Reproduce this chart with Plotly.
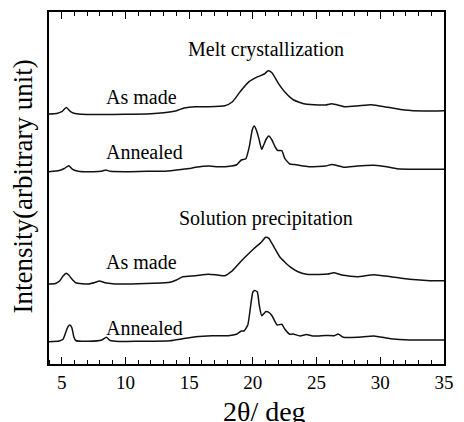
import plotly.graph_objects as go

# Powder XRD patterns, 2-theta in degrees, intensity in arbitrary units
melt_made_2theta = [4.0, 4.6, 5.0, 5.35, 5.7, 5.95, 6.5, 8.0, 10.0, 12.0, 13.0, 14.0, 14.6, 15.5, 16.5,
                    17.8, 18.4, 19.0, 19.7, 20.4, 20.9, 21.2, 21.5, 22.0, 22.6, 23.2, 24.1, 25.2, 25.7,
                    26.2, 27.2, 28.2, 29.3, 30.6, 31.9, 33.4, 35.0]
melt_made_int = [0, 0.5, 2.3, 6.5, 2.3, 0.7, -0.2, -0.5, -0.2, 0.3, 1.3, 3.3, 6.0, 7.3, 7.3,
                 8.3, 12.3, 22.3, 32.3, 37.3, 40.0, 43.3, 41.3, 30.7, 20.7, 14.0, 10.0, 9.0, 9.0,
                 10.3, 7.3, 8.0, 9.3, 6.7, 4.0, 3.0, 3.3]

melt_ann_2theta = [4.0, 4.8, 5.2, 5.55, 5.85, 6.3, 7.5, 8.2, 8.45, 8.8, 10.0, 11.7, 13.0, 14.0, 15.0,
                   15.5, 16.55, 17.2, 17.8, 18.3, 18.7, 19.09, 19.45, 19.72, 19.95, 20.1, 20.3, 20.5,
                   20.69, 20.85, 21.05, 21.25, 21.5, 21.75, 21.95, 22.27, 22.5, 22.9, 23.3, 23.7, 24.4,
                   25.1, 25.7, 26.2, 26.6, 27.2, 28.2, 29.5, 30.5, 31.3, 33.4, 35.0]
melt_ann_int = [0, 1.2, 3.2, 6.0, 2.4, 0.4, 0, 0.7, 1.7, 0.4, 0, 0.4, 0.4, 1.7, 3.2,
                4.4, 5.7, 5.0, 5.0, 5.7, 6.7, 11.7, 13.0, 25.0, 41.7, 45.7, 40.7, 31.7,
                22.4, 26.7, 32.7, 35.7, 31.7, 24.7, 21.2, 21.0, 13.4, 7.7, 7.2, 6.2, 5.0,
                5.2, 5.7, 7.2, 6.2, 4.4, 5.7, 6.4, 5.0, 3.0, 2.4, 2.4]

sol_made_2theta = [4.0, 4.5, 4.85, 5.1, 5.35, 5.55, 5.75, 6.1, 7.1, 7.6, 7.95, 8.4, 9.0, 10.0, 12.2,
                   13.5, 14.0, 14.5, 15.5, 16.5, 17.2, 17.8, 18.3, 18.8, 19.3, 20.05, 20.7, 21.0,
                   21.25, 21.6, 22.1, 22.5, 22.9, 23.5, 24.2, 25.2, 25.9, 26.35, 27.0, 28.2, 29.5,
                   30.8, 32.3, 33.9, 35.0]
sol_made_int = [0, 0.5, 3.3, 8.0, 10.7, 9.0, 5.7, 1.3, 0, 1.5, 3.0, 1.3, 0.3, 0, 0.7,
                1.7, 4.0, 7.3, 8.3, 9.7, 9.0, 8.3, 12.3, 19.0, 25.7, 35.0, 42.3, 46.7,
                45.7, 38.3, 27.3, 22.0, 17.3, 12.5, 9.7, 9.5, 10.0, 11.3, 9.0, 7.3, 9.3,
                7.3, 4.7, 3.3, 3.3]

sol_ann_2theta = [4.0, 4.8, 5.1, 5.35, 5.5, 5.65, 5.8, 5.95, 6.1, 7.1, 8.15, 8.5, 8.8, 9.5, 11.0,
                  13.5, 14.5, 15.5, 16.8, 18.07, 18.7, 19.09, 19.3, 19.6, 19.8, 20.0, 20.15, 20.35,
                  20.5, 20.7, 21.0, 21.25, 21.5, 21.9, 22.27, 22.5, 22.9, 23.16, 23.7, 24.2, 24.7,
                  25.7, 26.4, 26.7, 27.1, 28.2, 29.5, 30.8, 32.3, 35.0]
sol_ann_int = [0, 0.7, 2.4, 10.7, 15.2, 16.7, 13.7, 4.7, 1.2, 0.4, 1.7, 4.4, 1.2, 0.2, 0.4,
               1.0, 3.0, 5.0, 6.0, 6.0, 7.4, 10.7, 10.7, 16.7, 33.4, 49.7, 51.2, 49.7,
               36.7, 26.0, 30.0, 29.4, 26.0, 16.7, 17.4, 12.7, 7.4, 7.7, 5.7, 7.2, 5.7,
               6.2, 6.0, 7.7, 4.4, 4.4, 5.7, 3.0, 1.7, 1.7]

# Vertical offsets used to stack the patterns
offsets = [250.0, 192.3, 80.0, 22.3]

patterns = [
    (melt_made_2theta, melt_made_int),
    (melt_ann_2theta, melt_ann_int),
    (sol_made_2theta, sol_made_int),
    (sol_ann_2theta, sol_ann_int),
]
# the last pattern sits on the twin x axis that carries the bottom tick marks
trace_xaxes = ["x", "x", "x", "x2"]

# Text labels: (text, 2theta, y, anchor)
labels = [
    ("Melt crystallization", 21.0, 315, "center"),
    ("As made", 8.35, 267, "left"),
    ("Annealed", 8.35, 212, "left"),
    ("Solution precipitation", 21.0, 146, "center"),
    ("As made", 8.35, 102, "left"),
    ("Annealed", 8.35, 36, "left"),
]

X_TITLE = "2θ/ deg"
Y_TITLE = "Intensity(arbitrary unit)"

SERIF = "Liberation Serif, Times New Roman, serif"
X_RANGE = [4, 35]

fig = go.Figure()
for (tt, inten), off, xa in zip(patterns, offsets, trace_xaxes):
    fig.add_trace(go.Scatter(
        x=tt, y=[v + off for v in inten], mode="lines", xaxis=xa, yaxis="y",
        line=dict(color="#111111", width=1.5, shape="spline", smoothing=0.5),
        showlegend=False, hoverinfo="skip",
    ))

for text, x, y, anchor in labels:
    fig.add_annotation(x=x, y=y, text=text, showarrow=False, xanchor=anchor, yanchor="middle",
                       font=dict(family=SERIF, size=20, color="black"))

# axis titles placed in paper coordinates
fig.add_annotation(text=X_TITLE, xref="paper", yref="paper", x=0.546, y=-0.136,
                   xanchor="center", yanchor="middle", showarrow=False,
                   font=dict(family=SERIF, size=28, color="black"))
fig.add_annotation(text=Y_TITLE, xref="paper", yref="paper", x=-0.067, y=0.503,
                   xanchor="center", yanchor="middle", textangle=-90, showarrow=False,
                   font=dict(family=SERIF, size=27, color="black"))

fig.update_layout(
    width=464, height=422,
    margin=dict(l=49, r=10, t=12, b=58),
    paper_bgcolor="white", plot_bgcolor="white",
    font=dict(family=SERIF, color="black"),
    xaxis=dict(
        range=X_RANGE, tickmode="linear", tick0=0, dtick=5,
        ticks="inside", ticklen=7, tickwidth=1.4, tickcolor="black",
        minor=dict(ticks="inside", dtick=1, tick0=0, ticklen=4, tickwidth=1.4, tickcolor="black"),
        showline=True, linecolor="black", linewidth=1.5, mirror="allticks",
        showgrid=False, zeroline=False,
        tickfont=dict(family=SERIF, size=19, color="black"),
    ),
    # twin axis whose upward-pointing ticks sit on the bottom frame line
    xaxis2=dict(
        range=X_RANGE, tickmode="linear", tick0=0, dtick=5, matches="x",
        overlaying="x", side="top", anchor="free", position=0,
        ticks="outside", ticklen=7, tickwidth=1.4, tickcolor="black",
        minor=dict(ticks="outside", dtick=1, tick0=0, ticklen=4, tickwidth=1.4, tickcolor="black"),
        showline=False, showticklabels=False, showgrid=False, zeroline=False,
    ),
    yaxis=dict(
        range=[0, 352], showticklabels=False, ticks="",
        showline=True, linecolor="black", linewidth=1.5, mirror=True,
        showgrid=False, zeroline=False,
    ),
)

fig.write_html("out.html")
